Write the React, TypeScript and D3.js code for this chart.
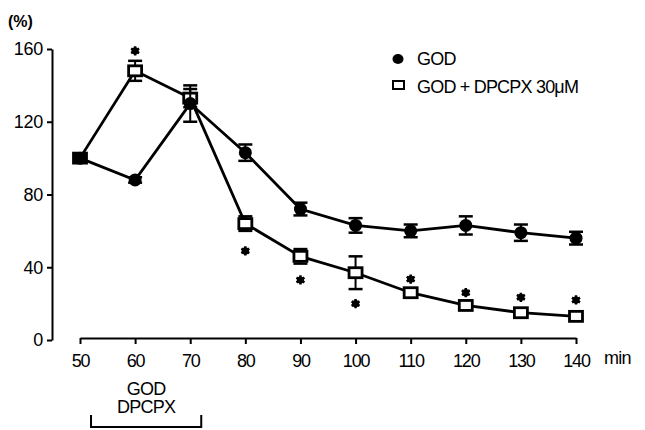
import { useEffect, useRef } from "react";
import * as d3 from "d3";

// time points (min)
const minutes = [50, 60, 70, 80, 90, 100, 110, 120, 130, 140];
// GOD (filled circles), % of control
const godMean = [100, 88, 130, 103, 72, 63, 60, 63, 59, 56];
const godErr = [1, 1.5, 10, 4.5, 3.5, 4, 3.5, 5, 4.5, 3.5];
// GOD + DPCPX 30µM (open squares)
const dpcpxMean = [100, 148, 133, 64, 46, 37, 26, 19, 15, 13];
const dpcpxErr = [1, 5.5, 5, 4, 4, 9, 2, 1.5, 1.5, 1.5];
// significance marks (minute, y in %)
const starMin = [60, 80, 90, 100, 110, 120, 130, 140];
const starVal = [159, 49, 33, 20, 33.5, 26, 23.5, 22];
const yTicks = [0, 40, 80, 120, 160];
const treatment = [52, 72];

const W = 645;
const H = 430;
const FONT = "'Liberation Sans', Arial, sans-serif";

export default function App() {
  const svgRef = useRef<SVGSVGElement | null>(null);

  useEffect(() => {
    const svg = d3.select(svgRef.current);
    svg.selectAll("*").remove();

    const x = d3.scaleLinear().domain([50, 140]).range([80, 576]);
    const y = d3.scaleLinear().domain([0, 160]).range([340, 49]);

    // y axis
    const ya = svg.append("g")
      .attr("transform", "translate(52,0)")
      .call(d3.axisLeft(y).tickValues(yTicks).tickSize(5).tickSizeOuter(0).tickPadding(4));
    ya.selectAll("path, line").attr("stroke", "#000").attr("stroke-width", 2);
    ya.selectAll("text").attr("font-size", 18).attr("font-family", FONT).attr("letter-spacing", -0.3).attr("fill", "#000");

    // x axis
    const xa = svg.append("g")
      .attr("transform", "translate(0,338)")
      .call(d3.axisBottom(x).tickValues(minutes).tickSize(6).tickSizeOuter(0).tickPadding(10));
    xa.selectAll("path, line").attr("stroke", "#000").attr("stroke-width", 2);
    xa.selectAll("text").attr("font-size", 18).attr("font-family", FONT).attr("letter-spacing", -1.2).attr("fill", "#000");

    svg.append("text").attr("x", 604).attr("y", 364).text("min")
      .attr("font-size", 18).attr("font-family", FONT).attr("letter-spacing", -0.8);
    svg.append("text").attr("x", 8).attr("y", 27).text("(%)")
      .attr("font-size", 16).attr("font-weight", "bold").attr("font-family", FONT);

    const line = d3.line<number>().x((_, i) => x(minutes[i])).y((d) => y(d));

    const drawSeries = (mean: number[], err: number[]) => {
      const g = svg.append("g");
      g.append("path").datum(mean).attr("d", line).attr("fill", "none")
        .attr("stroke", "#000").attr("stroke-width", 2.8);
      mean.forEach((m, i) => {
        const cx = x(minutes[i]);
        const top = y(m + err[i]);
        const bot = y(m - err[i]);
        g.append("line").attr("x1", cx).attr("x2", cx).attr("y1", top).attr("y2", bot)
          .attr("stroke", "#000").attr("stroke-width", 2);
        [top, bot].forEach((yy) =>
          g.append("line").attr("x1", cx - 7).attr("x2", cx + 7).attr("y1", yy).attr("y2", yy)
            .attr("stroke", "#000").attr("stroke-width", 2.5));
      });
      return g;
    };

    const gs = drawSeries(dpcpxMean, dpcpxErr);
    gs.selectAll("rect.m").data(dpcpxMean).join("rect")
      .attr("x", (_, i) => x(minutes[i]) - 6.5).attr("y", (d) => y(d) - 5)
      .attr("width", 13).attr("height", 10)
      .attr("fill", "#fff").attr("stroke", "#000").attr("stroke-width", 2.8);

    const gc = drawSeries(godMean, godErr);
    gc.selectAll("circle").data(godMean).join("circle")
      .attr("cx", (_, i) => x(minutes[i])).attr("cy", (d) => y(d)).attr("r", 6.5)
      .attr("fill", "#000");

    // asterisks
    const star = d3.symbol().type(d3.symbolAsterisk).size(60);
    svg.append("g").selectAll("path").data(starVal).join("path")
      .attr("transform", (d, i) => `translate(${x(starMin[i])},${y(d)})`)
      .attr("d", star()).attr("stroke", "#000").attr("stroke-width", 2.5).attr("fill", "none");
    svg.append("g").selectAll("circle").data(starVal).join("circle")
      .attr("cx", (_, i) => x(starMin[i])).attr("cy", (d) => y(d)).attr("r", 3.6).attr("fill", "#000");

    // legend
    const lg = svg.append("g").attr("font-family", FONT).attr("font-size", 18).attr("letter-spacing", -0.8);
    lg.append("ellipse").attr("cx", 398).attr("cy", 59).attr("rx", 5.5).attr("ry", 5).attr("fill", "#000");
    lg.append("text").attr("x", 417).attr("y", 65).text("GOD");
    lg.append("rect").attr("x", 393).attr("y", 81).attr("width", 11).attr("height", 8)
      .attr("fill", "#fff").attr("stroke", "#000").attr("stroke-width", 2);
    lg.append("text").attr("x", 417).attr("y", 93).text("GOD + DPCPX 30μM");

    // treatment bracket
    const bx0 = x(treatment[0]);
    const bx1 = x(treatment[1]);
    const mid = (bx0 + bx1) / 2;
    svg.append("path")
      .attr("d", `M${bx0},415V427H${bx1}V415`)
      .attr("fill", "none").attr("stroke", "#000").attr("stroke-width", 2);
    const tg = svg.append("g").attr("font-family", FONT).attr("font-size", 18)
      .attr("text-anchor", "middle").attr("letter-spacing", -0.8);
    tg.append("text").attr("x", mid).attr("y", 395).text("GOD");
    tg.append("text").attr("x", mid).attr("y", 413).text("DPCPX");
  }, []);

  return (
    <svg ref={svgRef} width={W} height={H}
      style={{ position: "absolute", left: 0, top: 0, background: "#fff" }} />
  );
}
